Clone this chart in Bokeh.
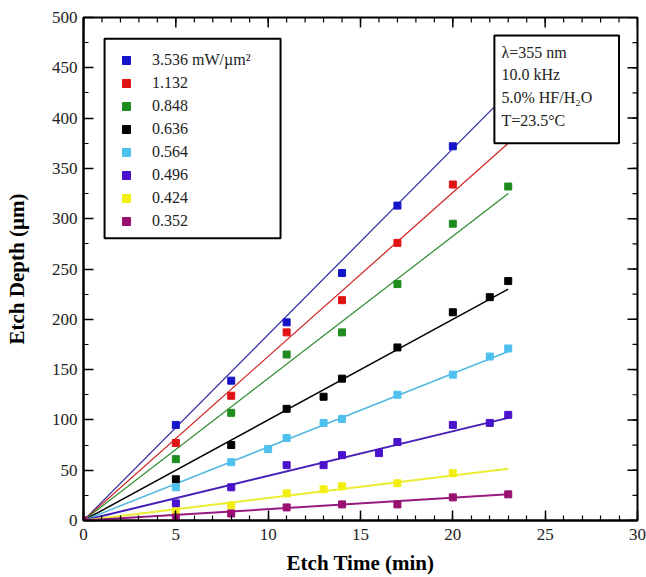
import numpy as np
from bokeh.plotting import figure
from bokeh.models import Legend, LegendItem, Label, BoxAnnotation, FixedTicker
from bokeh.embed import file_html
from bokeh.resources import INLINE

# ---------------- data ----------------
series_labels = ["3.536 mW/\u00b5m\u00b2", "1.132", "0.848", "0.636",
                 "0.564", "0.496", "0.424", "0.352"]
series_colors = ["#1414c8", "#e01414", "#1e8c1e", "#000000",
                 "#4ec0ee", "#4a12cc", "#f2ee10", "#9a1070"]
line_colors = ["#2a2aa0", "#d02020", "#2a8a2a", "#000000",
               "#50b8e0", "#4420b8", "#ecec30", "#981a80"]

t_blue = [0, 5, 8, 11, 14, 17, 20]
d_blue = [0, 95, 139, 197, 246, 313, 372]
t_red = [0, 5, 8, 11, 14, 17, 20]
d_red = [0, 77, 124, 187, 219, 276, 334]
t_green = [0, 5, 8, 11, 14, 17, 20, 23]
d_green = [0, 61, 107, 165, 187, 235, 295, 332]
t_black = [0, 5, 8, 11, 13, 14, 17, 20, 22, 23]
d_black = [0, 41, 75, 111, 123, 141, 172, 207, 222, 238]
t_cyan = [0, 5, 8, 10, 11, 13, 14, 17, 20, 22, 23]
d_cyan = [0, 33, 58, 71, 82, 97, 101, 125, 145, 163, 171]
t_purple = [0, 5, 8, 11, 13, 14, 16, 17, 20, 22, 23]
d_purple = [0, 17, 33, 55, 55, 65, 67, 78, 95, 97, 105]
t_yellow = [0, 5, 8, 11, 13, 14, 17, 20]
d_yellow = [0, 9, 15, 27, 31, 34, 37, 47]
t_magenta = [0, 5, 8, 11, 14, 17, 20, 23]
d_magenta = [0, 3, 7, 13, 16, 16, 23, 26]

# linear fits: from origin to end of run
fit_t = [0, 23]
fit_end = [425, 375, 325, 230, 168, 102, 51.5, 26]

times = [t_blue, t_red, t_green, t_black, t_cyan, t_purple, t_yellow, t_magenta]
depths = [d_blue, d_red, d_green, d_black, d_cyan, d_purple, d_yellow, d_magenta]
line_widths = [1.2, 1.2, 1.2, 1.5, 1.5, 2.0, 2.0, 2.0]

x_ticks = [0, 5, 10, 15, 20, 25, 30]
x_minor = list(range(0, 31))
y_ticks = [0, 50, 100, 150, 200, 250, 300, 350, 400, 450, 500]
y_minor = list(range(0, 501, 25))

info_lines = ["\u03bb=355 nm", "10.0 kHz", "5.0% HF/H\u2082O", "T=23.5\u00b0C"]

FONT = "Liberation Serif"
X_MAX, Y_MAX = 30, 500

# ---------------- figure ----------------
p = figure(width=646, height=577, x_range=(0, X_MAX), y_range=(0, Y_MAX),
           output_backend="svg", toolbar_location=None,
           min_border_left=83, min_border_right=9, min_border_top=17,
           min_border_bottom=55)
p.grid.visible = False
p.outline_line_color = "black"
p.outline_line_width = 2
p.background_fill_color = "white"


def style_axis(ax, ticks, minor):
    ax.ticker = FixedTicker(ticks=ticks, minor_ticks=minor)
    ax.axis_line_width = 2
    ax.axis_line_color = "black"
    ax.major_tick_in = 10
    ax.major_tick_out = 0
    ax.minor_tick_in = 5
    ax.minor_tick_out = 0
    ax.major_tick_line_width = 1.5
    ax.minor_tick_line_width = 1.2
    ax.major_tick_line_color = "black"
    ax.minor_tick_line_color = "black"
    ax.major_label_text_font = FONT
    ax.major_label_text_color = "#222222"
    ax.major_label_text_font_size = "17px"
    ax.axis_label_text_font = FONT
    ax.axis_label_text_font_style = "bold"
    ax.axis_label_text_font_size = "21px"
    ax.axis_label_text_color = "black"


style_axis(p.xaxis[0], x_ticks, x_minor)
style_axis(p.yaxis[0], y_ticks, y_minor)
p.xaxis[0].major_label_standoff = 8
p.yaxis[0].major_label_standoff = 6
p.xaxis[0].axis_label = "Etch Time (min)"
p.yaxis[0].axis_label = "Etch Depth (\u00b5m)"
p.xaxis[0].axis_label_standoff = 8
p.yaxis[0].axis_label_standoff = 20

# inward ticks on top and right edges (clipped to the frame)
p.scatter(x_ticks, [Y_MAX] * len(x_ticks), marker="dash", angle=np.pi / 2,
          size=20, line_color="black", line_width=1.5)
p.scatter(x_minor, [Y_MAX] * len(x_minor), marker="dash", angle=np.pi / 2,
          size=10, line_color="black", line_width=1.2)
p.scatter([X_MAX] * len(y_ticks), y_ticks, marker="dash",
          size=20, line_color="black", line_width=1.5)
p.scatter([X_MAX] * len(y_minor), y_minor, marker="dash",
          size=10, line_color="black", line_width=1.2)

# ---------------- glyphs ----------------
items = []
for i in range(len(series_labels)):
    p.line(fit_t, [0, fit_end[i]], line_color=line_colors[i],
           line_width=line_widths[i])
for i in range(len(series_labels)):
    r = p.scatter(times[i], depths[i], marker="square", size=7,
                  fill_color=series_colors[i], line_color=series_colors[i])
    items.append(LegendItem(label=series_labels[i], renderers=[r]))

# legend frame (wider than the automatic one)
legend_box = BoxAnnotation(left=1.14, right=10.67, bottom=280.5, top=479,
                           fill_color="white", fill_alpha=1,
                           line_color="black", line_alpha=1, line_width=2)
p.add_layout(legend_box)

legend = Legend(items=items, location="top_left")
legend.margin = 33
legend.padding = 11
legend.spacing = 3
legend.glyph_width = 20
legend.glyph_height = 20
legend.label_height = 20
legend.label_standoff = 16
legend.label_text_font = FONT
legend.label_text_font_size = "16px"
legend.label_text_color = "#222222"
legend.border_line_color = None
legend.background_fill_alpha = 0
p.add_layout(legend, "center")

# ---------------- info box ----------------
box = BoxAnnotation(left=22.25, right=29.0, bottom=375, top=482,
                    fill_color="white", fill_alpha=1,
                    line_color="black", line_alpha=1, line_width=2)
p.add_layout(box)
info_y = [465, 443, 420, 398]
for txt, yy in zip(info_lines, info_y):
    p.add_layout(Label(x=22.63, y=yy, text=txt, text_font=FONT,
                       text_font_size="16px", text_baseline="middle",
                       text_color="#222222"))

open("out.html", "w").write(file_html(p, INLINE))
